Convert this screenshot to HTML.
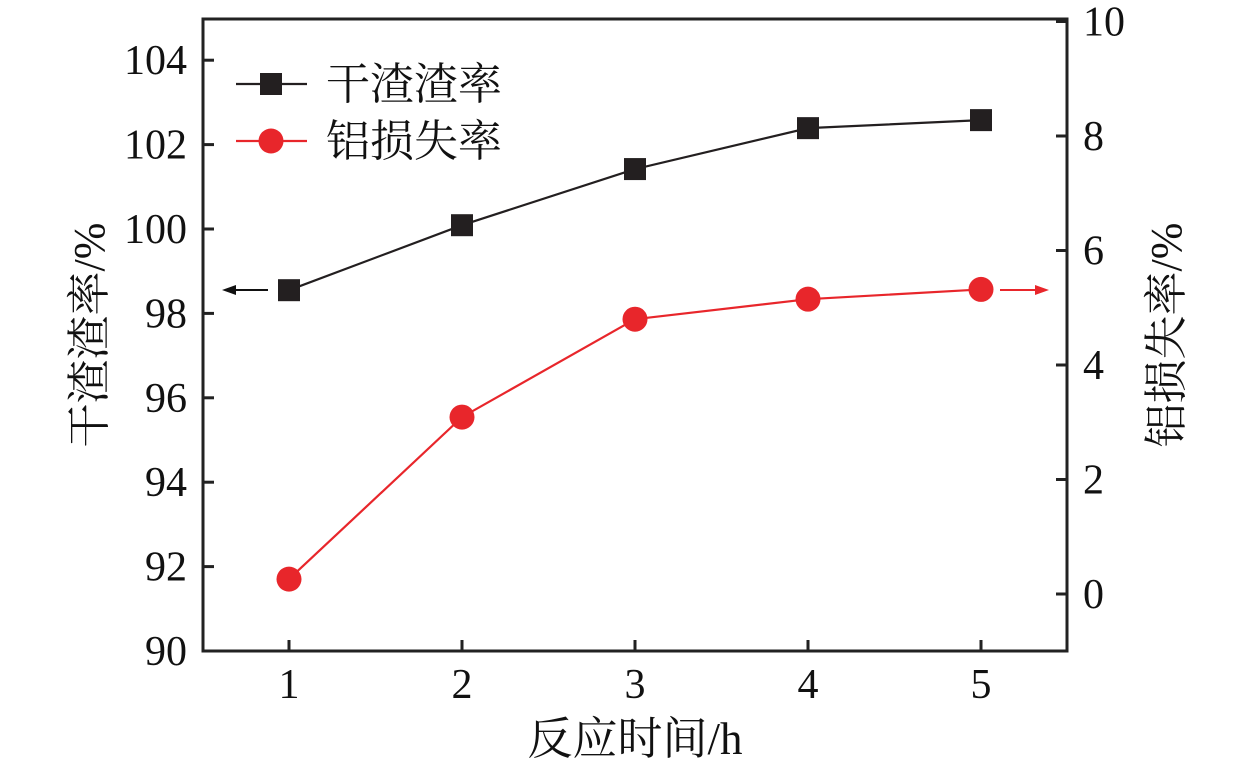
<!DOCTYPE html>
<html><head><meta charset="utf-8"><style>
body{margin:0;background:#fff;}
svg{display:block;font-family:"Liberation Serif","Noto Serif CJK SC",serif;}
</style></head><body>
<svg id="chart" width="1259" height="767" viewBox="0 0 1259 767" xmlns="http://www.w3.org/2000/svg"></svg>
<script>
const categories=[1,2,3,4,5];
const slagRate=[98.55,100.09,101.42,102.39,102.58];
const alLoss=[0.26,3.09,4.80,5.15,5.32];
const leftTicks=[90,92,94,96,98,100,102,104];
const rightTicks=[0,2,4,6,8,10];
const NS="http://www.w3.org/2000/svg";
const svg=document.getElementById('chart');
const L=203,R=1067,T=19,B=651;
const x=v=>289+(v-1)*173;
const yL=v=>651-(v-90)*42.2;
const yR=v=>594-v*57.25;
function el(tag,attrs,parent){const e=document.createElementNS(NS,tag);for(const k in attrs)e.setAttribute(k,attrs[k]);(parent||svg).appendChild(e);return e;}
function txt(s,attrs,name){const e=el('text',attrs);e.textContent=s;


return e;}
const fr=el('rect',{x:L,y:T,width:R-L,height:B-T,fill:'none',stroke:'#222','stroke-width':3});


leftTicks.forEach(v=>{const y=yL(v);
const t=el('line',{x1:L,x2:L+11,y1:y,y2:y,stroke:'#222','stroke-width':3});


txt(v,{x:L-16,y:y+14,'text-anchor':'end','font-size':42,fill:'#111'},'left-tick-label');});
rightTicks.forEach(v=>{const y=yR(v);
const t=el('line',{x1:R-11,x2:R,y1:y,y2:y,stroke:'#222','stroke-width':3});


txt(v,{x:R+16,y:y+14,'text-anchor':'start','font-size':42,fill:'#111'},'right-tick-label');});
categories.forEach(c=>{const xx=x(c);
const t=el('line',{x1:xx,x2:xx,y1:B-11,y2:B,stroke:'#222','stroke-width':3});


txt(c,{x:xx,y:B+47,'text-anchor':'middle','font-size':42,fill:'#111'},'x-tick-label');});
txt('反应时间/h',{x:635,y:754,'text-anchor':'middle','font-size':45,fill:'#111'},'x-axis-title');
txt('干渣渣率/%',{x:0,y:0,transform:'translate(104,335) rotate(-90)','text-anchor':'middle','font-size':44,fill:'#111'},'left-axis-title');
txt('铝损失率/%',{x:0,y:0,transform:'translate(1181,335) rotate(-90)','text-anchor':'middle','font-size':44,fill:'#111'},'right-axis-title');
function series(vals,yf,color,marker,name){
const pts=categories.map((c,i)=>x(c)+','+yf(vals[i])).join(' ');
const pl=el('polyline',{points:pts,fill:'none',stroke:color,'stroke-width':2.2});


categories.forEach((c,i)=>{const cx=x(c),cy=yf(vals[i]);let m;
if(marker==='sq')m=el('rect',{x:cx-11,y:cy-11,width:22,height:22,fill:color});
else m=el('circle',{cx:cx,cy:cy,r:12.5,fill:color});

});}
series(slagRate,yL,'#231f20','sq','slag-rate');
series(alLoss,yR,'#e8262b','ci','al-loss');
const a1=el('g',{});
el('line',{x1:268,x2:230,y1:290,y2:290,stroke:'#111','stroke-width':2},a1);
el('polygon',{points:'222,290 236,285 236,295',fill:'#111'},a1);
const a2=el('g',{});
el('line',{x1:1000,x2:1040,y1:290,y2:290,stroke:'#e8262b','stroke-width':2},a2);
el('polygon',{points:'1049,290 1035,285 1035,295',fill:'#e8262b'},a2);
const lg=el('g',{});
el('line',{x1:236,x2:307,y1:84,y2:84,stroke:'#231f20','stroke-width':2.2},lg);
el('rect',{x:260,y:73,width:22,height:22,fill:'#231f20'},lg);
el('line',{x1:236,x2:307,y1:141,y2:141,stroke:'#e8262b','stroke-width':2.2},lg);
el('circle',{cx:271,cy:141,r:12.5,fill:'#e8262b'},lg);
txt('干渣渣率',{x:326,y:99,'font-size':44,fill:'#111'},'legend-label-slag-rate');
txt('铝损失率',{x:326,y:156,'font-size':44,fill:'#111'},'legend-label-al-loss');
</script>
</body></html>
